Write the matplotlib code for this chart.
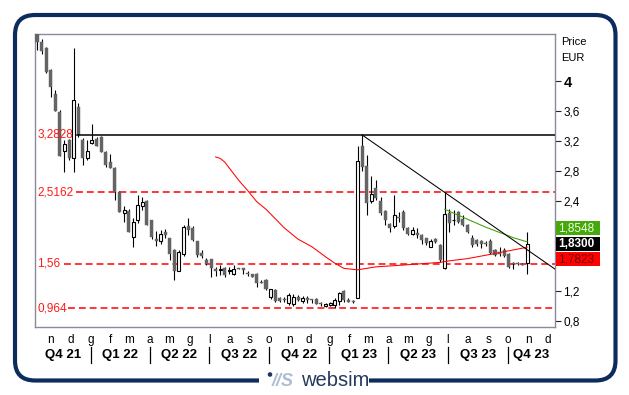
import matplotlib
matplotlib.use('Agg')
import matplotlib.pyplot as plt
import matplotlib.transforms as mtransforms
from matplotlib.patches import FancyBboxPatch, Rectangle, Circle
import datetime as dt

W, H = 629, 395
FONT = 'Liberation Sans'
plt.rcParams['font.family'] = [FONT, 'DejaVu Sans']

# ---------------- data (weekly candles, first week starting 2021-10-11) -------------
first_week = dt.date(2021, 10, 11)

opens = [4.70, 4.53, 4.44, 4.15, 3.83, 3.59, 3.07, 3.22, 2.98, 3.66,
         3.22, 2.98, 3.18, 3.23, 3.25, 3.06, 2.92, 2.84, 2.52, 2.24,
         2.27, 1.92, 2.15, 2.33, 2.40, 2.14, 1.89, 1.87, 1.99, 1.90,
         1.75, 1.47, 1.69, 2.07, 2.04, 1.86, 1.70, 1.61, 1.62, 1.49,
         1.48, 1.51, 1.47, 1.42, 1.50, 1.50, 1.43, 1.42, 1.43, 1.315,
         1.35, 1.12, 1.21, 1.11, 1.08, 1.04, 1.03, 1.12, 1.06, 1.10,
         1.09, 1.09, 1.03, 1.00, 1.01, 1.01, 1.07, 1.20, 1.08, 1.06,
         1.11, 3.14, 2.87, 2.40, 2.58, 2.40, 2.27, 2.09, 2.06, 2.19,
         2.26, 2.04, 1.96, 1.97, 1.95, 1.90, 1.79, 1.89, 1.81, 1.50,
         2.24, 2.14, 2.26, 2.16, 2.08, 1.90, 1.88, 1.86, 1.84, 1.86,
         1.75, 1.72, 1.75, 1.69, 1.565, 1.57, 1.56, 1.57]
highs = [4.75, 4.56, 4.46, 4.16, 3.88, 3.62, 3.22, 3.23, 4.44, 3.71,
         3.24, 3.22, 3.43, 3.25, 3.27, 3.07, 3.03, 2.85, 2.53, 2.33,
         2.29, 2.17, 2.48, 2.45, 2.41, 2.15, 2.00, 2.01, 2.02, 1.91,
         1.76, 1.74, 2.08, 2.17, 2.06, 1.87, 1.75, 1.64, 1.63, 1.52,
         1.54, 1.52, 1.52, 1.54, 1.505, 1.51, 1.46, 1.43, 1.44, 1.35,
         1.36, 1.23, 1.22, 1.12, 1.12, 1.17, 1.16, 1.14, 1.13, 1.13,
         1.09, 1.10, 1.05, 1.04, 1.05, 1.10, 1.19, 1.21, 1.10, 1.08,
         3.13, 3.2828, 3.02, 2.73, 2.68, 2.46, 2.28, 2.10, 2.48, 2.26,
         2.28, 2.05, 2.05, 2.04, 1.96, 1.91, 1.89, 1.90, 1.82, 2.5162,
         2.30, 2.28, 2.27, 2.21, 2.09, 1.95, 1.89, 1.88, 1.86, 1.89,
         1.76, 1.78, 1.77, 1.70, 1.59, 1.58, 1.57, 1.98]
lows = [4.42, 4.37, 4.11, 3.79, 3.60, 3.00, 2.79, 2.95, 2.79, 3.26,
        2.88, 2.95, 3.16, 3.13, 3.05, 2.86, 2.84, 2.41, 2.25, 2.12,
        1.99, 1.79, 2.11, 2.28, 2.08, 1.89, 1.80, 1.83, 1.90, 1.61,
        1.34, 1.46, 1.67, 1.94, 1.86, 1.65, 1.64, 1.55, 1.39, 1.40,
        1.41, 1.39, 1.42, 1.41, 1.485, 1.42, 1.40, 1.38, 1.25, 1.30,
        1.21, 1.09, 1.05, 1.05, 1.05, 1.01, 1.00, 1.06, 1.04, 1.04,
        1.04, 1.02, 1.00, 0.99, 1.00, 0.97, 1.01, 1.05, 1.05, 1.04,
        1.10, 2.80, 2.21, 2.37, 2.41, 2.21, 2.08, 1.99, 2.04, 2.12,
        2.01, 1.95, 1.94, 1.90, 1.83, 1.81, 1.78, 1.84, 1.58, 1.49,
        1.99, 2.08, 2.11, 2.06, 1.97, 1.79, 1.80, 1.77, 1.80, 1.69,
        1.66, 1.66, 1.65, 1.51, 1.49, 1.55, 1.54, 1.42]
closes = [4.53, 4.40, 4.13, 3.92, 3.61, 3.00, 3.16, 2.97, 3.75, 3.28,
          2.97, 3.07, 3.22, 3.14, 3.06, 2.88, 2.84, 2.52, 2.26, 2.28,
          1.99, 2.12, 2.35, 2.39, 2.08, 1.92, 1.87, 1.96, 1.95, 1.69,
          1.47, 1.72, 2.05, 2.01, 1.88, 1.68, 1.66, 1.56, 1.51, 1.47,
          1.49, 1.41, 1.48, 1.49, 1.49, 1.48, 1.42, 1.39, 1.31, 1.30,
          1.22, 1.22, 1.07, 1.07, 1.075, 1.14, 1.12, 1.08, 1.10, 1.08,
          1.08, 1.03, 1.02, 1.02, 1.04, 1.08, 1.17, 1.08, 1.05, 1.05,
          2.93, 2.86, 2.37, 2.50, 2.44, 2.24, 2.15, 2.04, 2.21, 2.17,
          2.04, 1.96, 2.01, 1.95, 1.88, 1.84, 1.87, 1.85, 1.61, 2.23,
          2.10, 2.15, 2.12, 2.08, 1.99, 1.81, 1.83, 1.83, 1.82, 1.70,
          1.68, 1.69, 1.66, 1.52, 1.555, 1.56, 1.55, 1.83]

# long moving average (red), read at week indices
ma_idx = [39, 40, 41, 43, 44, 46, 48, 50, 54, 57, 60, 63, 65, 67, 70, 72, 74, 79, 88, 90, 94, 101, 107]
ma_val = [2.99, 2.97, 2.92, 2.76, 2.68, 2.54, 2.39, 2.29, 2.04, 1.89, 1.79, 1.655, 1.57, 1.50, 1.48,
          1.50, 1.52, 1.54, 1.58, 1.60, 1.63, 1.71, 1.7823]
# short moving average (green)
ma2_idx = [89, 92, 95, 98, 101, 104, 107]
ma2_val = [2.29, 2.21, 2.13, 2.05, 1.98, 1.91, 1.8548]

# levels
level_top = 3.2828
red_levels = [2.5162, 1.56, 0.964]
red_level_labels = ['2,5162', '1,56', '0,964']
trend_pts_idx = [71, 89]
trend_pts_val = [3.2828, 2.5162]

last_close = 1.8300
last_ma2 = 1.8548
last_ma = 1.7823

yticks = [0.8, 1.2, 2.4, 2.8, 3.2, 3.6, 4.0]
month_letters = ['g', 'f', 'm', 'a', 'm', 'g', 'l', 'a', 's', 'o', 'n', 'd']

# ---------------- figure ----------------
fig = plt.figure(figsize=(W / 100, H / 100), dpi=100)
fig.patch.set_facecolor('white')

# overlay (pixel coords) for frame & logo
ov = fig.add_axes([0, 0, 1, 1], zorder=0)
ov.set_xlim(0, W)
ov.set_ylim(H, 0)
ov.axis('off')
navy = '#0c2c5e'
ov.add_patch(FancyBboxPatch((15, 15), 600.5, 365.5, boxstyle='round,pad=0,rounding_size=20',
                            fill=False, ec=navy, lw=3.0))
ov.add_patch(Rectangle((259, 372), 110, 16, fc='white', ec='none', zorder=3))
ov.add_patch(Circle((270, 374.5), 2.3, fc='#1d3560', ec='none', zorder=4))
ov.text(272, 381, '//S', fontsize=13, fontweight='bold', fontstyle='italic', color='#aebdd1',
        ha='left', va='center', zorder=4)
ov.text(301, 380.5, 'websim', fontsize=14.5, color='#243a5c', ha='left', va='center', zorder=4)

# main axes
ax_left, ax_right, ax_top, ax_bot = 35, 555, 34, 327.3
ax = fig.add_axes([ax_left / W, (H - ax_bot) / H, (ax_right - ax_left) / W, (ax_bot - ax_top) / H],
                  zorder=1)
px_per_week = 4.58
xmin = -2 / px_per_week
xmax = (ax_right - ax_left - 2) / px_per_week
ax.set_xlim(xmin, xmax)
ax.set_ylim(0.712, 4.633)
for s in ax.spines.values():
    s.set_color('#8a8a9e')
    s.set_linewidth(1.0)

n = len(opens)
idx = list(range(n))
body_w = 0.66
for i in idx:
    o, h, l, c = opens[i], highs[i], lows[i], closes[i]
    ax.vlines(i, l, h, color='black', lw=0.8, zorder=3)
for i in idx:
    o, h, l, c = opens[i], highs[i], lows[i], closes[i]
    bot = min(o, c)
    ht = max(abs(c - o), 0.012)
    if c >= o:
        ax.bar(i, ht, bottom=bot, width=body_w, color='white', edgecolor='black', lw=0.8, zorder=4)
    else:
        ax.bar(i, ht, bottom=bot, width=body_w, color='#646464', edgecolor='#646464', lw=0.3, zorder=4)

# moving averages
ax.plot(ma_idx, ma_val, color='#ff0000', lw=0.75, zorder=5)
ax.plot(ma2_idx, ma2_val, color='#3c9e00', lw=0.75, zorder=5)

# trend line extended to right edge
slope = (trend_pts_val[1] - trend_pts_val[0]) / (trend_pts_idx[1] - trend_pts_idx[0])
ax.plot([trend_pts_idx[0], xmax], [trend_pts_val[0], trend_pts_val[0] + slope * (xmax - trend_pts_idx[0])],
        color='black', lw=0.75, zorder=5)

# horizontal levels
redc = '#ff1a1a'
ax.axhline(level_top, xmin=0.081, xmax=1, color='black', lw=1.1, zorder=5)
ax.text(0.004, level_top, '3,2828', transform=mtransforms.blended_transform_factory(ax.transAxes, ax.transData),
        color=redc, fontsize=8.5, ha='left', va='center', zorder=6)
starts = [0.078, 0.056, 0.064]
for lv, lb, st in zip(red_levels, red_level_labels, starts):
    ax.axhline(lv, xmin=st, xmax=1, color='#ff0000', lw=1.1, dashes=(4.5, 2.6), zorder=2)
    ax.text(0.004, lv, lb, transform=mtransforms.blended_transform_factory(ax.transAxes, ax.transData),
            color=redc, fontsize=8.5, ha='left', va='center', zorder=6)

# y axis on right
ax.yaxis.tick_right()
ax.set_yticks(yticks)
ylabels = []
for v in yticks:
    if abs(v - round(v)) < 1e-9:
        ylabels.append(str(int(round(v))))
    else:
        ylabels.append(('%.1f' % v).replace('.', ','))
ax.set_yticklabels(ylabels)
ax.tick_params(axis='y', length=4, width=0.8, color='#222222', pad=2, labelsize=8.5)
for t, v in zip(ax.get_yticklabels(), yticks):
    if abs(v - round(v)) < 1e-9:
        t.set_fontweight('bold')
        t.set_fontsize(10.5)

fig.text(561 / W, 1 - 45 / H, 'Price', fontsize=8, ha='left', va='baseline')
fig.text(561 / W, 1 - 61 / H, 'EUR', fontsize=8, ha='left', va='baseline')

# x axis: months
def week_pos(d):
    return (d - first_week).days / 7.0

mpos, mlab = [], []
y_, m_ = 2021, 11
while (y_, m_) <= (2023, 12):
    d = dt.date(y_, m_, 1)
    mpos.append(week_pos(d))
    mlab.append(month_letters[m_ - 1])
    m_ += 1
    if m_ > 12:
        m_ = 1
        y_ += 1
ax.set_xticks(mpos)
ax.set_xticklabels(mlab)
ax.tick_params(axis='x', length=0, pad=4.5, labelsize=8.5)

# quarters
blend = mtransforms.blended_transform_factory(ax.transData, ax.transAxes)
qstarts = []
y_, m_ = 2021, 10
while (y_, m_) <= (2023, 10):
    qstarts.append((y_, m_))
    m_ += 3
    if m_ > 12:
        m_ -= 12
        y_ += 1
for k, (yy, mm) in enumerate(qstarts):
    s = week_pos(dt.date(yy, mm, 1))
    if mm + 3 > 12:
        e = week_pos(dt.date(yy + 1, 1, 1))
    else:
        e = week_pos(dt.date(yy, mm + 3, 1))
    if s > xmin:
        ax.plot([s, s], [-0.066, -0.1227], transform=blend, color='black', lw=0.9, clip_on=False)
    cs, ce = max(s, xmin), min(e, xmax)
    ax.text((cs + ce) / 2, -0.1057, 'Q%d %02d' % ((mm - 1) // 3 + 1, yy % 100), transform=blend,
            ha='center', va='baseline', fontsize=9.5, fontweight='bold')

# value boxes on right
fig.canvas.draw()
y_disp = ax.transData.transform((0, last_close))[1]
yc = H - y_disp
boxes = [(yc - 15.5, '#46a80a', '%.4f' % last_ma2, '#eaffe0', 'normal'),
         (yc, '#000000', '%.4f' % last_close, 'white', 'bold'),
         (yc + 15.5, '#ff0000', '%.4f' % last_ma, '#6a0000', 'normal')]
for cy, fc, txt, tc, fw in boxes:
    ov.add_patch(Rectangle((556, cy - 7), 44, 14, fc=fc, ec='none', zorder=5))
    ov.text(558, cy + 0.5, txt.replace('.', ','), color=tc, fontsize=8.5, fontweight=fw,
            ha='left', va='center', zorder=6)
ov.set_zorder(2)
ov.patch.set_alpha(0)

fig.savefig('out.png', dpi=100)
